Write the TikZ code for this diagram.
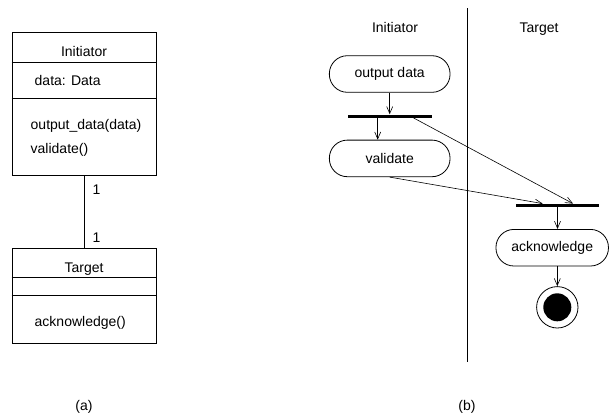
\documentclass[tikz,border=0pt]{standalone}
\usepackage{fontspec}
\setmainfont{Liberation Sans}
\usetikzlibrary{
  shapes,
  arrows.meta,
  positioning,
  calc
}
\tikzset{
  >={Straight Barb[length=7pt,width=6pt]},
  classbox/.style = {draw, line width=0.8pt, minimum width=144pt, inner sep=0pt},
  member/.style = {inner sep=0pt, anchor=base west},
  title/.style = {inner sep=0pt, anchor=base},
  activity/.style = {draw, line width=0.8pt, rounded corners=18pt, minimum height=36.6pt, inner sep=0pt},
  bar/.style = {fill=black, minimum height=3pt, inner sep=0pt},
  flow/.style = {->, line width=0.6pt}
}

\begin{document}
\begin{tikzpicture}[x=1pt, y=-1pt, font=\fontsize{14}{17}\selectfont]
    \useasboundingbox (0,0) rectangle (610,416);

    % (a) classes
    \node[classbox, minimum height=143pt] (init) at (84,103.8) {};
    \node[classbox, minimum height=95pt] (tgt) at (84,295.8) {};
    \draw[line width=0.8pt] (init.west |- 0,62) -- (init.east |- 0,62);
    \draw[line width=0.8pt] (init.west |- 0,98.3) -- (init.east |- 0,98.3);
    \draw[line width=0.8pt] (tgt.west |- 0,277.7) -- (tgt.east |- 0,277.7);
    \draw[line width=0.8pt] (tgt.west |- 0,295.7) -- (tgt.east |- 0,295.7);

    \node[title] (initname) at (84,56) {Initiator};
    \node[member] (initattr) at (34.5,85.7) {data: Data};
    \node[member] (initop1) at (30.5,129.5) {output\_data(data)};
    \node[member] (initop2) at (30.5,153.5) {validate()};
    \node[title] (tgtname) at (84,272) {Target};
    \node[member] (tgtop) at (34.5,326.5) {acknowledge()};

    \draw[line width=0.8pt] (init) -- (tgt);
    \node[inner sep=0pt, anchor=west] (m1) at (92.5,190) {1};
    \node[inner sep=0pt, anchor=west] (m2) at (92.5,237.7) {1};

    % (b) activities
    \node[title] (lane1) at (395,32.3) {Initiator};
    \node[title] (lane2) at (539,32.3) {Target};
    \coordinate (lanetop) at (467.3,8.3);
    \coordinate (lanebot) at (467.3,361.7);
    \draw[line width=1.2pt] (lanetop) -- (lanebot);

    \node[activity, minimum width=120.7pt] (output) at (389.7,74) {output data};
    \node[bar, minimum width=84pt] (fork) at (389.7,116) {};
    \node[activity, minimum width=120.7pt, below=47pt of output] (validate) {validate};
    \node[bar, minimum width=83pt] (join) at (557.5,205.3) {};
    \node[activity, minimum width=112.5pt] (ack) at (552.2,247.7) {acknowledge};
    \node[circle, draw, line width=0.8pt, minimum size=41.4pt, inner sep=0pt] (final) at (557.3,307.3) {};
    \node[circle, fill, minimum size=28pt, inner sep=0pt] (finaldot) at (final) {};

    \draw[flow] (output) -- (output |- fork.north);
    \draw[flow] ([xshift=-12pt]fork.south) -- ([xshift=-12pt]fork.south |- validate.north);
    \draw[flow] ([xshift=20.3pt]fork.center) -- ([xshift=15.5pt]join.north);
    \draw[flow] (validate.south) -- ([xshift=-14.8pt]join.north);
    \draw[flow] (join) -- (join |- ack.north);
    \draw[flow] (final |- ack.south) -- (final);

    \node[title] (capa) at (84,410) {(a)};
    \node[title] (capb) at (467,410) {(b)};
\end{tikzpicture}
\end{document}
